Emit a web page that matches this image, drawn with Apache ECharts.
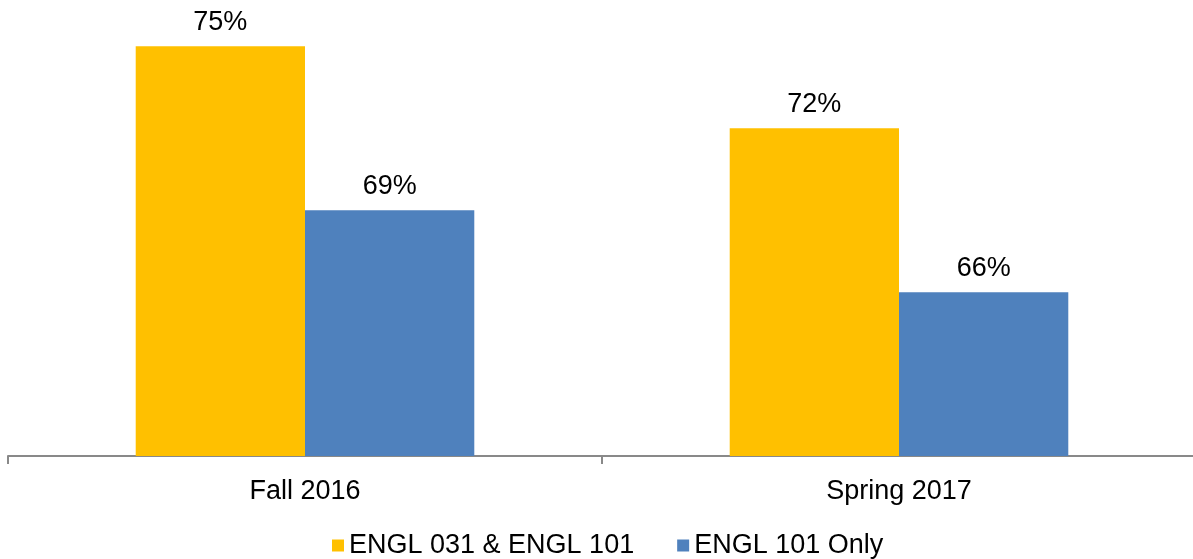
<!DOCTYPE html>
<html>
<head>
<meta charset="utf-8">
<script src="https://cdn.jsdelivr.net/npm/echarts@6/dist/echarts.min.js"></script>
<style>
html,body{margin:0;padding:0;background:#fff;overflow:hidden;}
#chart{width:1200px;height:559px;}
</style>
</head>
<body>
<div id="chart"></div>
<script>
const categories = ['Fall 2016', 'Spring 2017'];
const seriesNames = ['ENGL 031 & ENGL 101', 'ENGL 101 Only'];
const engl031and101 = [75, 72];
const engl101Only = [69, 66];

const chart = echarts.init(document.getElementById('chart'), null, {renderer: 'canvas'});
const font = 'Arial, "Liberation Sans", sans-serif';
const labelCfg = {
  show: true, position: 'top', distance: 10,
  formatter: '{c}%', color: '#000', fontSize: 27, fontFamily: font
};
chart.setOption({
  animation: false,
  backgroundColor: '#fff',
  grid: {left: 8, right: 4, top: 19, bottom: 103, containLabel: false},
  legend: {
    left: 327, top: 527,
    itemWidth: 12, itemHeight: 12, itemGap: 43,
    icon: 'rect',
    textStyle: {fontSize: 27, fontFamily: font, color: '#000'},
    data: seriesNames
  },
  xAxis: {
    type: 'category', data: categories,
    axisLine: {lineStyle: {color: '#898989', width: 2}},
    axisTick: {show: true, length: 8, lineStyle: {color: '#898989', width: 2}},
    axisLabel: {fontSize: 27, fontFamily: font, color: '#000', margin: 22}
  },
  yAxis: {type: 'value', min: 60, max: 76, show: false, splitLine: {show: false}},
  series: [
    {name: seriesNames[0], type: 'bar', data: engl031and101, barGap: '0%', barCategoryGap: '43%',
     itemStyle: {color: '#FFC000'}, label: labelCfg},
    {name: seriesNames[1], type: 'bar', data: engl101Only, barGap: '0%', barCategoryGap: '43%',
     itemStyle: {color: '#4F81BD'}, label: labelCfg}
  ]
});
</script>
</body>
</html>
